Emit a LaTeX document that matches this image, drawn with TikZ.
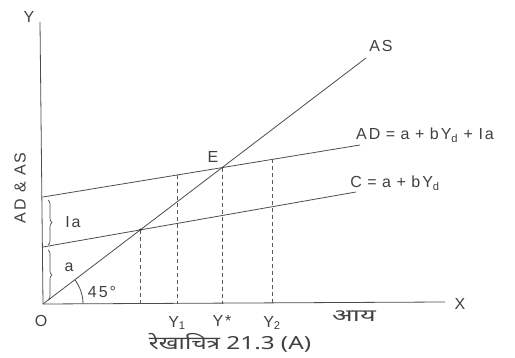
\documentclass[tikz,border=0pt]{standalone}
\usepackage{fontspec}
\setmainfont{Liberation Sans}[LetterSpace=12]
\newfontfamily\hindi[Script=Devanagari]{Noto Sans}
\usetikzlibrary{decorations.pathreplacing}
\newcommand\opgap{\hspace{5.5pt}}
\begin{document}
\begin{tikzpicture}[x=1pt,y=-1pt,
  ln/.style={draw=black!70, line width=0.8pt},
  dsh/.style={draw=black!65, line width=0.7pt, dash pattern=on 4pt off 3pt},
  lbl/.style={text=black!75, font=\fontsize{16}{17}\selectfont, inner sep=0pt},
  brc/.style={draw=black!70, line width=0.7pt, decorate, decoration={brace, amplitude=4pt}}]
\useasboundingbox (0,0) rectangle (515,358);
% axes
\coordinate (O) at (43,304);
\coordinate (Ytop) at (40,22);
\coordinate (Xend) at (445,302);
\draw[ln] (Ytop) -- (O) -- (Xend);
% lines
\coordinate (ASr) at (366,58);
\coordinate (Cl) at (43,247);
\coordinate (Cr) at (356,192);
\coordinate (ADl) at (43,197);
\coordinate (ADr) at (360,145);
\draw[ln] (O) -- (ASr);
\draw[ln] (Cl) -- (Cr);
\draw[ln] (ADl) -- (ADr);
% intersections
\coordinate (P) at (intersection of O--ASr and Cl--Cr);
\coordinate (E) at (intersection of O--ASr and ADl--ADr);
\coordinate (A1) at (intersection of 177,0--177,400 and ADl--ADr);
\coordinate (A2) at (intersection of 272,0--272,400 and ADl--ADr);
\coordinate (xP) at (P |- O);
\coordinate (x1) at (A1 |- O);
\coordinate (xE) at (E |- O);
\coordinate (x2) at (A2 |- O);
\draw[dsh] (P) -- (xP);
\draw[dsh] (A1) -- (x1);
\draw[dsh] (E) -- (xE);
\draw[dsh] (A2) -- (x2);
\fill[black!75] (P) circle (1.6);
% braces
\draw[brc] (48,200) -- (48,245);
\draw[brc] (48,250) -- (48,300);
% angle
\draw[ln] ([xshift=40pt]O) arc[start angle=0, end angle=-37.3, radius=40];
% labels
\node[lbl] (lY) at (29,17) {Y};
\node[lbl, rotate=90] (lADAS) at (20,188) {AD \& AS};
\node[lbl] (lE) at (213,157) {E};
\node[lbl] (lAS) at (381,46) {AS};
\node[lbl] (lAD) at (425,135) {AD\opgap=\opgap a\opgap+\opgap bY\textsubscript{d}\opgap+\opgap Ia};
\node[lbl] (lC) at (395,183) {C\opgap=\opgap a\opgap+\opgap bY\textsubscript{d}};
\node[lbl] (lIa) at (73,222) {Ia};
\node[lbl] (la) at (69,267) {a};
\node[lbl] (l45) at (102,292) {45\textdegree};
\node[lbl] (lO) at (41,321) {O};
\node[lbl] (lY1) at (177,323) {Y\textsubscript{1}};
\node[lbl] (lYs) at (222,321) {Y*};
\node[lbl] (lY2) at (272,323) {Y\textsubscript{2}};
\node[lbl, font=\fontsize{17}{18}\selectfont] (lAay) at (354,316) {\scalebox{1.6}[1]{\hindi आय}};
\node[lbl] (lX) at (460,304) {X};
\node[lbl, font=\fontsize{18}{19}\selectfont] (cap) at (230,343) {\scalebox{1.35}[1]{\hindi रेखाचित्र 21.3 (A)}};
\end{tikzpicture}
\end{document}
